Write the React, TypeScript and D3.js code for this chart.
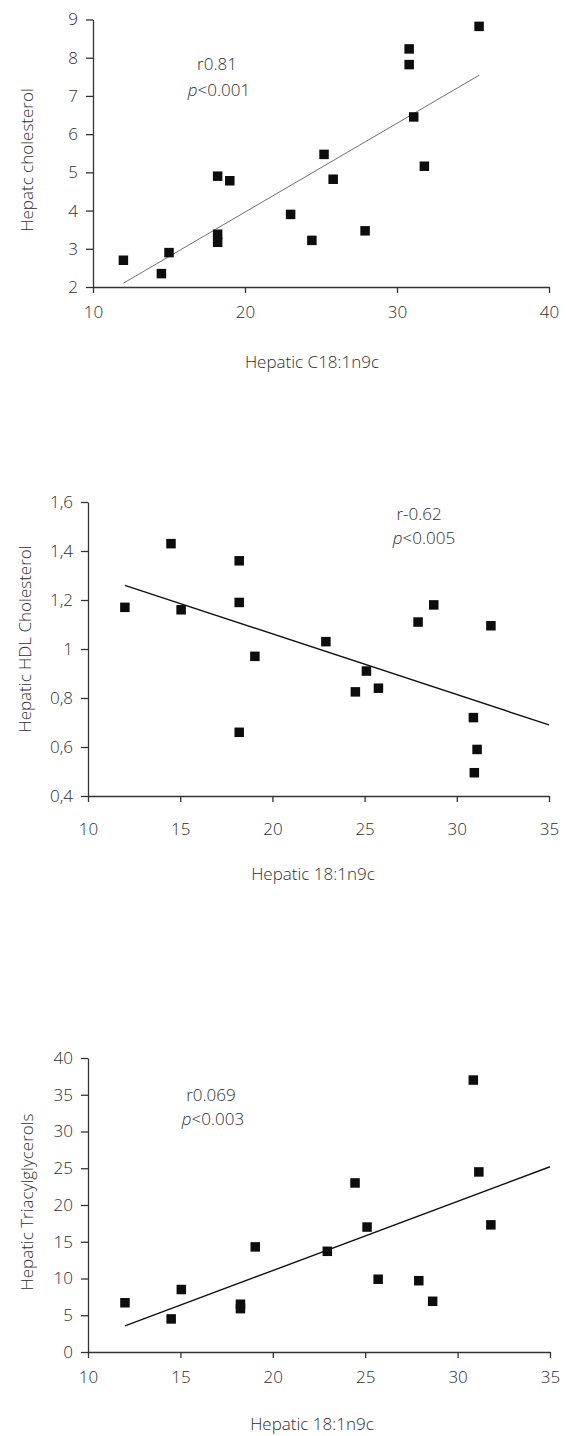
import { useEffect, useRef } from 'react'
import * as d3 from 'd3'

// panel 1 - hepatic cholesterol vs C18:1n9c
const cholX = [12, 14.5, 15, 18.2, 19, 18.2, 18.2, 23, 24.4, 25.2, 25.8, 27.9, 30.8, 30.8, 31.1, 31.8, 35.4]
const cholY = [2.7, 2.35, 2.9, 4.9, 4.78, 3.38, 3.17, 3.9, 3.22, 5.47, 4.82, 3.47, 8.23, 7.82, 6.45, 5.16, 8.82]
const cholFitX = [12, 35.4]
const cholFitY = [2.1, 7.54]
const cholXTicks = [10, 20, 30, 40]
const cholYTicks = [2, 3, 4, 5, 6, 7, 8, 9]

// panel 2 - HDL cholesterol
const hdlX = [12, 14.5, 15.05, 18.2, 18.2, 18.2, 19.05, 22.9, 24.5, 25.1, 25.75, 27.9, 28.75, 30.9, 31.1, 30.95, 31.85]
const hdlY = [1.17, 1.43, 1.16, 1.36, 1.19, 0.66, 0.97, 1.03, 0.825, 0.91, 0.84, 1.11, 1.18, 0.72, 0.59, 0.495, 1.095]
const hdlFitX = [12, 35]
const hdlFitY = [1.26, 0.69]
const hdlXTicks = [10, 15, 20, 25, 30, 35]
const hdlYTicks = [0.4, 0.6, 0.8, 1, 1.2, 1.4, 1.6]

// panel 3 - triacylglycerols
const tagX = [12, 14.5, 15.05, 18.25, 18.25, 19.05, 22.95, 24.45, 25.1, 25.7, 27.9, 28.65, 30.85, 31.15, 31.8]
const tagY = [6.7, 4.5, 8.5, 6.5, 5.9, 14.3, 13.7, 23, 17, 9.9, 9.7, 6.9, 37, 24.5, 17.3]
const tagFitX = [12, 35]
const tagFitY = [3.55, 25.2]
const tagXTicks = [10, 15, 20, 25, 30, 35]
const tagYTicks = [0, 5, 10, 15, 20, 25, 30, 35, 40]

const FONT = '"Open Sans", "DejaVu Sans", sans-serif'
const TEXT = '#2e2e2e'

const panels = [
  {
    xs: cholX, ys: cholY, fitX: cholFitX, fitY: cholFitY,
    xTicks: cholXTicks, yTicks: cholYTicks,
    xDomain: [10, 40], yDomain: [2, 9],
    xRange: [93, 549], yRange: [287, 19.5],
    xTitle: 'Hepatic C18:1n9c', yTitle: 'Hepatc cholesterol',
    xTitlePos: [312, 368], yTitlePos: [33, 160],
    xLabelDy: 31,
    rText: 'r0.81', pText: '<0.001',
    rPos: [217, 70], pPos: [219, 96],
    fitColor: '#707070', fitWidth: 1,
    fmt: (d: number) => String(d),
  },
  {
    xs: hdlX, ys: hdlY, fitX: hdlFitX, fitY: hdlFitY,
    xTicks: hdlXTicks, yTicks: hdlYTicks,
    xDomain: [10, 35], yDomain: [0.4, 1.6],
    xRange: [88, 549], yRange: [796, 502],
    xTitle: 'Hepatic 18:1n9c', yTitle: 'Hepatic HDL Cholesterol',
    xTitlePos: [313, 880], yTitlePos: [31, 639],
    xLabelDy: 39,
    rText: 'r-0.62', pText: '<0.005',
    rPos: [419, 520], pPos: [424, 544],
    fitColor: '#111', fitWidth: 1.4,
    fmt: (d: number) => String(d).replace('.', ','),
  },
  {
    xs: tagX, ys: tagY, fitX: tagFitX, fitY: tagFitY,
    xTicks: tagXTicks, yTicks: tagYTicks,
    xDomain: [10, 35], yDomain: [0, 40],
    xRange: [88, 550], yRange: [1352, 1058],
    xTitle: 'Hepatic 18:1n9c', yTitle: 'Hepatic Triacylglycerols',
    xTitlePos: [312, 1430], yTitlePos: [33, 1202],
    xLabelDy: 31,
    rText: 'r0.069', pText: '<0.003',
    rPos: [211, 1101], pPos: [213, 1125],
    fitColor: '#111', fitWidth: 1.4,
    fmt: (d: number) => String(d),
  },
]

export default function App() {
  const svgRef = useRef<SVGSVGElement>(null)

  useEffect(() => {
    if (!svgRef.current) return
    const svg = d3.select(svgRef.current)
    svg.selectAll('*').remove()

    panels.forEach(p => {
      const x = d3.scaleLinear().domain(p.xDomain).range(p.xRange)
      const y = d3.scaleLinear().domain(p.yDomain).range(p.yRange)
      const g = svg.append('g')

      // y axis
      const yAxis = g.append('g')
        .attr('transform', `translate(${p.xRange[0]},0)`)
        .call(d3.axisLeft(y).tickValues(p.yTicks).tickSize(7).tickSizeOuter(0).tickPadding(8).tickFormat(d => p.fmt(d as number)))
      yAxis.selectAll('path, line').attr('stroke', '#333').attr('stroke-width', 1.3)
      yAxis.selectAll('text')
        .attr('font-family', FONT).attr('font-size', 17).attr('font-weight', 300).attr('fill', TEXT)

      // x axis
      const xAxis = g.append('g')
        .attr('transform', `translate(0,${p.yRange[0]})`)
        .call(d3.axisBottom(x).tickValues(p.xTicks).tickSize(6).tickSizeOuter(0).tickFormat(d => String(d)))
      xAxis.selectAll('path, line').attr('stroke', '#333').attr('stroke-width', 1.3)
      xAxis.selectAll('text')
        .attr('font-family', FONT).attr('font-size', 17).attr('font-weight', 300).attr('fill', TEXT)
        .attr('dy', null).attr('y', p.xLabelDy)

      // fit line
      g.append('line')
        .attr('x1', x(p.fitX[0])).attr('y1', y(p.fitY[0]))
        .attr('x2', x(p.fitX[1])).attr('y2', y(p.fitY[1]))
        .attr('stroke', p.fitColor).attr('stroke-width', p.fitWidth)

      // points
      const size = 9.5
      g.selectAll('rect.pt')
        .data(p.xs.map((v, i) => [v, p.ys[i]]))
        .enter()
        .append('rect')
        .attr('class', 'pt')
        .attr('x', d => x(d[0]) - size / 2)
        .attr('y', d => y(d[1]) - size / 2)
        .attr('width', size)
        .attr('height', size)
        .attr('fill', '#0d0d0d')

      // titles
      g.append('text')
        .attr('x', p.xTitlePos[0]).attr('y', p.xTitlePos[1])
        .attr('text-anchor', 'middle')
        .attr('font-family', FONT).attr('font-size', 17).attr('font-weight', 300).attr('fill', TEXT)
        .text(p.xTitle)

      g.append('text')
        .attr('transform', `translate(${p.yTitlePos[0]},${p.yTitlePos[1]}) rotate(-90)`)
        .attr('text-anchor', 'middle')
        .attr('font-family', FONT).attr('font-size', 17).attr('font-weight', 300).attr('fill', TEXT)
        .text(p.yTitle)

      // stats
      g.append('text')
        .attr('x', p.rPos[0]).attr('y', p.rPos[1])
        .attr('text-anchor', 'middle')
        .attr('font-family', FONT).attr('font-size', 17).attr('font-weight', 300).attr('fill', TEXT)
        .text(p.rText)

      const pt = g.append('text')
        .attr('x', p.pPos[0]).attr('y', p.pPos[1])
        .attr('text-anchor', 'middle')
        .attr('font-family', FONT).attr('font-size', 17).attr('font-weight', 300).attr('fill', TEXT)
      pt.append('tspan').attr('font-style', 'italic').text('p')
      pt.append('tspan').text(p.pText)
    })
  }, [])

  return (
    <svg
      ref={svgRef}
      width={566}
      height={1436}
      style={{ position: 'absolute', left: 0, top: 0, background: '#fff' }}
    />
  )
}
